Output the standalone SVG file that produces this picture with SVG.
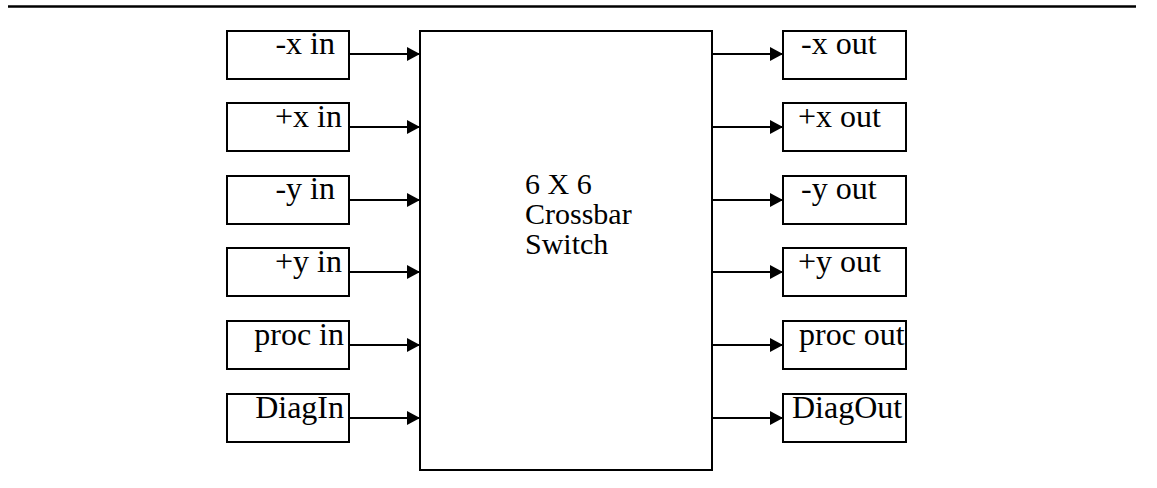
<svg xmlns="http://www.w3.org/2000/svg" width="1157" height="488" viewBox="0 0 1157 488">
<style>
.box{fill:#fff;stroke:#000;stroke-width:2}
.lbl{font-family:"Liberation Serif","Times New Roman",serif;font-size:32px;fill:#000}
.ctr{font-family:"Liberation Serif","Times New Roman",serif;font-size:30px;fill:#000}
.ln{stroke:#000;stroke-width:1.8;fill:none}
</style>
<defs>
<marker id="ah" viewBox="0 0 13 14" refX="13" refY="7" markerWidth="13" markerHeight="14" markerUnits="userSpaceOnUse" orient="auto">
<path d="M0,0 L13,7 L0,14 Z" fill="#000"/>
</marker>
<clipPath id="cR"><rect x="783" y="0" width="123" height="488"/></clipPath>
</defs>
<line x1="8" y1="6.5" x2="1136" y2="6.5" stroke="#000" stroke-width="2.5"/>
<g id="connectors">
<line class="ln" x1="349" y1="54" x2="420" y2="54" marker-end="url(#ah)"/>
<line class="ln" x1="349" y1="127" x2="420" y2="127" marker-end="url(#ah)"/>
<line class="ln" x1="349" y1="200" x2="420" y2="200" marker-end="url(#ah)"/>
<line class="ln" x1="349" y1="272" x2="420" y2="272" marker-end="url(#ah)"/>
<line class="ln" x1="349" y1="345" x2="420" y2="345" marker-end="url(#ah)"/>
<line class="ln" x1="349" y1="418" x2="420" y2="418" marker-end="url(#ah)"/>
<line class="ln" x1="712" y1="54" x2="783" y2="54" marker-end="url(#ah)"/>
<line class="ln" x1="712" y1="127" x2="783" y2="127" marker-end="url(#ah)"/>
<line class="ln" x1="712" y1="200" x2="783" y2="200" marker-end="url(#ah)"/>
<line class="ln" x1="712" y1="272" x2="783" y2="272" marker-end="url(#ah)"/>
<line class="ln" x1="712" y1="345" x2="783" y2="345" marker-end="url(#ah)"/>
<line class="ln" x1="712" y1="418" x2="783" y2="418" marker-end="url(#ah)"/>
</g>
<g id="switch"><rect class="box" x="420" y="31" width="292" height="439"/>
<text class="ctr" x="525" y="194">6 X 6</text>
<text class="ctr" x="525" y="224">Crossbar</text>
<text class="ctr" x="525" y="254">Switch</text></g>
<g id="mx-in"><rect class="box" x="227" y="31" width="122" height="48"/><text class="lbl" x="335" y="54" text-anchor="end">-x in</text></g>
<g id="px-in"><rect class="box" x="227" y="103" width="122" height="48"/><text class="lbl" x="342" y="127" text-anchor="end">+x in</text></g>
<g id="my-in"><rect class="box" x="227" y="176" width="122" height="48"/><text class="lbl" x="335" y="199" text-anchor="end">-y in</text></g>
<g id="py-in"><rect class="box" x="227" y="248" width="122" height="48"/><text class="lbl" x="342" y="272" text-anchor="end">+y in</text></g>
<g id="proc-in"><rect class="box" x="227" y="321" width="122" height="48"/><text class="lbl" x="344" y="345" text-anchor="end">proc in</text></g>
<g id="diag-in"><rect class="box" x="227" y="394" width="122" height="48"/><text class="lbl" x="344" y="418" text-anchor="end">DiagIn</text></g>
<g id="mx-out"><rect class="box" x="783" y="31" width="123" height="48"/><text class="lbl" x="801" y="54">-x out</text></g>
<g id="px-out"><rect class="box" x="783" y="103" width="123" height="48"/><text class="lbl" x="798" y="127">+x out</text></g>
<g id="my-out"><rect class="box" x="783" y="176" width="123" height="48"/><text class="lbl" x="801" y="199">-y out</text></g>
<g id="py-out"><rect class="box" x="783" y="248" width="123" height="48"/><text class="lbl" x="798" y="272">+y out</text></g>
<g id="proc-out"><rect class="box" x="783" y="321" width="123" height="48"/><text class="lbl" x="799" y="345" clip-path="url(#cR)">proc out</text></g>
<g id="diag-out"><rect class="box" x="783" y="394" width="123" height="48"/><text class="lbl" x="792" y="418" clip-path="url(#cR)">DiagOut</text></g>
</svg>
